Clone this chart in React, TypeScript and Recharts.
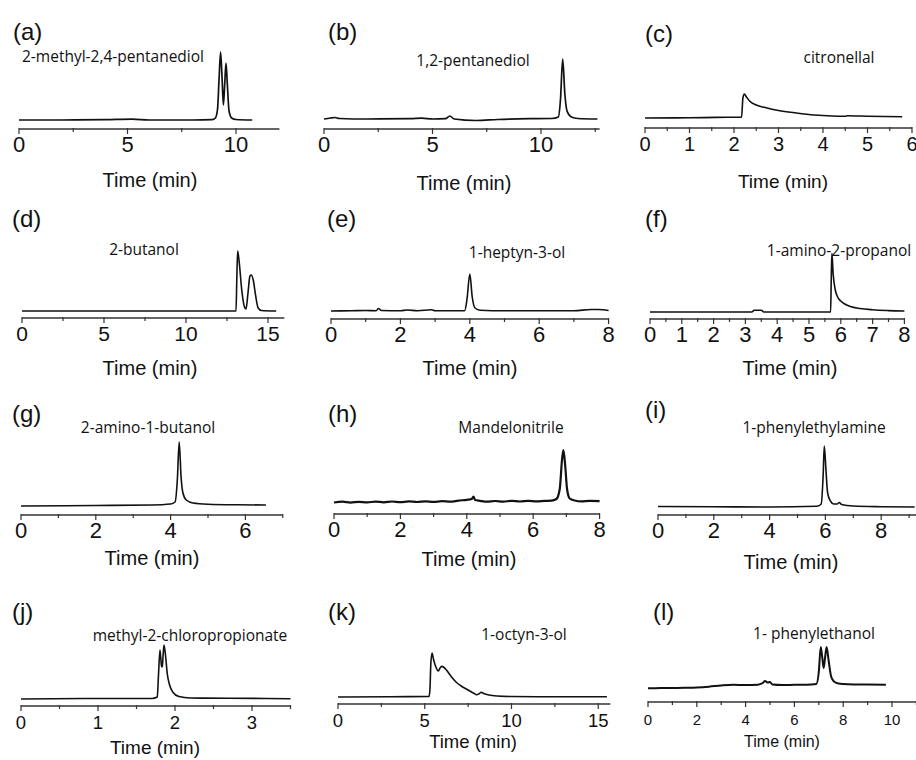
import React from "react";
import { LineChart, Line, XAxis, YAxis } from "recharts";

// chromatogram traces: [time (min), detector signal (a.u.)]
const traceA = [[0, 9], [2, 9], [4, 9.3], [5.2, 9.8], [6, 9], [8, 9], [8.9, 9.3], [9.05, 11], [9.15, 20], [9.22, 50], [9.29, 77], [9.36, 50], [9.42, 24], [9.48, 45], [9.54, 66], [9.6, 45], [9.68, 18], [9.8, 11], [10.0, 9.5], [10.75, 9]];
const traceB = [[0, 10], [0.3, 11], [0.5, 11.5], [0.7, 10.5], [2, 10], [4, 10.3], [4.5, 10.8], [5, 10], [5.6, 10.3], [5.8, 13], [6.0, 10], [7, 8.5], [8, 9.5], [9.5, 10.3], [10.5, 10.5], [10.8, 12], [10.9, 30], [11.0, 70], [11.1, 35], [11.2, 18], [11.4, 12], [11.7, 10.5], [12.6, 10]];
const traceC = [[0, 10], [1, 10.2], [1.6, 10.6], [2.17, 10.8], [2.2, 30], [2.23, 34], [2.28, 31], [2.35, 27], [2.5, 23], [2.7, 20.5], [3.0, 17.5], [3.4, 15], [3.8, 13], [4.2, 12], [4.5, 11.8], [4.55, 12.2], [5.0, 11.8], [5.78, 11.3]];
const traceD = [[0, 7], [5, 7], [10, 7], [13.05, 7], [13.1, 40], [13.15, 67], [13.25, 55], [13.4, 28], [13.55, 12], [13.66, 9], [13.78, 25], [13.9, 42], [13.98, 43], [14.1, 38], [14.25, 22], [14.4, 10], [14.6, 7.5], [15.5, 7]];
const traceE = [[0, 8], [0.6, 8.3], [1, 8.5], [1.3, 8.3], [1.37, 10.5], [1.45, 8.5], [2, 8.3], [2.2, 9], [2.5, 8.3], [2.9, 9.2], [3.0, 8.3], [3.85, 8.3], [3.92, 20], [4.0, 45], [4.07, 22], [4.15, 11], [4.3, 8.8], [5, 8.2], [6, 8.2], [7, 8.3], [7.5, 9.5], [7.7, 9.5], [8, 8.5]];
const traceF = [[0, 7], [3.2, 7], [3.28, 8.7], [3.5, 8.7], [3.58, 7], [5.68, 7], [5.7, 40], [5.72, 65.7], [5.76, 45], [5.82, 30], [5.9, 22], [6.0, 18], [6.1, 15.5], [6.3, 12.5], [6.6, 10.5], [7.0, 9.2], [7.5, 8.4], [8.0, 8]];
const traceG = [[0, 9], [2, 9.5], [3.5, 10], [4.0, 11], [4.12, 13], [4.18, 35], [4.23, 73], [4.28, 38], [4.33, 22], [4.42, 15], [4.6, 12], [5.0, 10.8], [5.8, 10.2], [6.55, 10]];
const traceH = [[0, 11.5], [0.25, 12.3], [0.5, 11.4], [0.75, 12.2], [1, 11.6], [1.25, 12.4], [1.5, 11.7], [1.75, 12.5], [2, 11.8], [2.25, 12.6], [2.5, 12.0], [2.75, 12.7], [3, 12.1], [3.25, 12.8], [3.5, 12.3], [3.75, 13.4], [4.0, 14.2], [4.15, 15], [4.2, 17.3], [4.25, 14], [4.4, 13.2], [4.6, 12.3], [4.85, 13.0], [5.1, 12.4], [5.35, 13.1], [5.6, 12.5], [5.85, 13.2], [6.1, 12.6], [6.35, 13.1], [6.55, 13.3], [6.7, 15], [6.8, 25], [6.87, 55], [6.91, 64], [6.96, 50], [7.02, 25], [7.1, 15.5], [7.25, 13.5], [7.45, 12.6], [7.7, 13.2], [8.0, 12.8]];
const traceI = [[0, 8.5], [2, 8.3], [4, 8], [5.7, 8.8], [5.85, 11], [5.92, 40], [5.96, 69], [6.02, 45], [6.08, 22], [6.18, 14], [6.3, 11], [6.42, 11], [6.5, 12.5], [6.58, 10.5], [7, 9], [8, 8.3], [9.2, 8]];
const traceJ = [[0, 7], [1, 7.5], [1.7, 7.5], [1.77, 9], [1.785, 30], [1.805, 56], [1.825, 40], [1.835, 39], [1.845, 50], [1.857, 61], [1.875, 52], [1.9, 32], [1.93, 21], [1.97, 14], [2.05, 9.5], [2.2, 8], [2.7, 7.8], [3.5, 7.3]];
const traceK = [[0, 7], [3, 7.3], [5.25, 7.5], [5.3, 15], [5.35, 40], [5.42, 51], [5.5, 45], [5.62, 38], [5.78, 33], [5.9, 36.5], [6.0, 37.6], [6.2, 35], [6.5, 28], [6.8, 22], [7.1, 18], [7.5, 14], [7.8, 11], [8.0, 9.3], [8.15, 10.5], [8.25, 11.7], [8.4, 10.5], [8.7, 9], [9.2, 8], [10, 7.5], [12, 7.2], [15.5, 7.2]];
const traceL = [[0, 13.7], [0.5, 13.9], [1, 14], [1.5, 14.2], [2, 14.5], [2.5, 15.3], [3, 16.5], [3.5, 17.2], [4, 17], [4.5, 17.3], [4.7, 19], [4.8, 21], [4.9, 19.5], [5.0, 20], [5.1, 17.5], [5.5, 17], [6, 17.2], [6.5, 17.3], [6.9, 18], [7.0, 30], [7.08, 55], [7.14, 45], [7.2, 34], [7.26, 45], [7.32, 55], [7.4, 42], [7.5, 26], [7.6, 21], [7.8, 18.5], [8.2, 17.8], [9, 17.5], [9.75, 17.3]];

// axis ticks (all) and the ones that carry a label
const ticksA = [0, 2.5, 5, 7.5, 10];
const ticksB = [0, 2.5, 5, 7.5, 10, 12.5];
const ticksC = [0, 0.5, 1, 1.5, 2, 2.5, 3, 3.5, 4, 4.5, 5, 5.5, 6];
const ticksD = [0, 2.5, 5, 7.5, 10, 12.5, 15];
const ticksE = [0, 1, 2, 3, 4, 5, 6, 7, 8];
const ticksF = [0, 0.5, 1, 1.5, 2, 2.5, 3, 3.5, 4, 4.5, 5, 5.5, 6, 6.5, 7, 7.5, 8];
const ticksG = [0, 1, 2, 3, 4, 5, 6, 7];
const ticksH = [0, 1, 2, 3, 4, 5, 6, 7, 8];
const ticksI = [0, 1, 2, 3, 4, 5, 6, 7, 8, 9];
const ticksJ = [0, 0.5, 1, 1.5, 2, 2.5, 3, 3.5];
const ticksK = [0, 2.5, 5, 7.5, 10, 12.5, 15];
const ticksL = [0, 1, 2, 3, 4, 5, 6, 7, 8, 9, 10, 11];

const labelsA = [0, 5, 10];
const labelsC = [0, 1, 2, 3, 4, 5, 6];
const labelsD = [0, 5, 10, 15];
const labelsEven8 = [0, 2, 4, 6, 8];
const labelsF = [0, 1, 2, 3, 4, 5, 6, 7, 8];
const labelsG = [0, 2, 4, 6];
const labelsJ = [0, 1, 2, 3];
const labelsL = [0, 2, 4, 6, 8, 10];

const compounds = [
  "2-methyl-2,4-pentanediol", "1,2-pentanediol", "citronellal",
  "2-butanol", "1-heptyn-3-ol", "1-amino-2-propanol",
  "2-amino-1-butanol", "Mandelonitrile", "1-phenylethylamine",
  "methyl-2-chloropropionate", "1-octyn-3-ol", "1- phenylethanol",
];
const letters = ["(a)", "(b)", "(c)", "(d)", "(e)", "(f)", "(g)", "(h)", "(i)", "(j)", "(k)", "(l)"];

const SIGNAL_MAX = 95;
const ARIAL = "'Liberation Sans', Arial, Helvetica, sans-serif";
const NAME_FONT = "'Open Sans', 'Noto Sans', sans-serif";

const panels = [
  { trace: traceA, ticks: ticksA, labels: labelsA, xMax: 12, x0: 19, ppu: 21.7, axisY: 129, lx: 13, ly: 40, nx: 113, ny: 62, tx: 150, ty: 187, tickFont: 22, timeFont: 20, lw: 1.7 },
  { trace: traceB, ticks: ticksB, labels: labelsA, xMax: 12.7, x0: 324, ppu: 21.7, axisY: 129, lx: 328, ly: 40, nx: 473, ny: 66, tx: 464, ty: 190, tickFont: 22, timeFont: 20, lw: 1.7 },
  { trace: traceC, ticks: ticksC, labels: labelsC, xMax: 6, x0: 645, ppu: 44.5, axisY: 128, lx: 645, ly: 42, nx: 839, ny: 63, tx: 783, ty: 188, tickFont: 20, timeFont: 19, lw: 1.6 },
  { trace: traceD, ticks: ticksD, labels: labelsD, xMax: 16, x0: 22, ppu: 16.4, axisY: 318, lx: 12, ly: 227, nx: 144, ny: 255, tx: 150, ty: 375, tickFont: 21, timeFont: 20, lw: 1.6 },
  { trace: traceE, ticks: ticksE, labels: labelsEven8, xMax: 8, x0: 331, ppu: 34.7, axisY: 319, lx: 327, ly: 227, nx: 517, ny: 258, tx: 470, ty: 375, tickFont: 22, timeFont: 20, lw: 1.6 },
  { trace: traceF, ticks: ticksF, labels: labelsF, xMax: 8, x0: 650, ppu: 31.8, axisY: 319, lx: 645, ly: 227, nx: 839, ny: 256, tx: 790, ty: 375, tickFont: 22, timeFont: 20, lw: 1.6 },
  { trace: traceG, ticks: ticksG, labels: labelsG, xMax: 7, x0: 21, ppu: 37.4, axisY: 515, lx: 12, ly: 422, nx: 148, ny: 433, tx: 152, ty: 565, tickFont: 22, timeFont: 20, lw: 1.6 },
  { trace: traceH, ticks: ticksH, labels: labelsEven8, xMax: 8, x0: 334, ppu: 33.2, axisY: 514, lx: 328, ly: 422, nx: 511, ny: 433, tx: 469, ty: 566, tickFont: 22, timeFont: 20, lw: 2.2 },
  { trace: traceI, ticks: ticksI, labels: labelsEven8, xMax: 9.3, x0: 658, ppu: 27.9, axisY: 515, lx: 645, ly: 418, nx: 814, ny: 433, tx: 791, ty: 569, tickFont: 22, timeFont: 20, lw: 1.6 },
  { trace: traceJ, ticks: ticksJ, labels: labelsJ, xMax: 3.5, x0: 21, ppu: 77, axisY: 706, lx: 12, ly: 620, nx: 190, ny: 641, tx: 155, ty: 754, tickFont: 18.5, timeFont: 19, lw: 1.6 },
  { trace: traceK, ticks: ticksK, labels: labelsD, xMax: 15.7, x0: 338, ppu: 17.35, axisY: 704, lx: 328, ly: 620, nx: 524, ny: 640, tx: 473, ty: 748, tickFont: 18.5, timeFont: 18.5, lw: 1.6 },
  { trace: traceL, ticks: ticksL, labels: labelsL, xMax: 11, x0: 648, ppu: 24.4, axisY: 702, lx: 653, ly: 620, nx: 814, ny: 639, tx: 782, ty: 747, tickFont: 15, timeFont: 16, lw: 2 },
];

function TimeTick(props: any) {
  const { x, y, payload, labels, font } = props;
  const major = labels.includes(payload.value);
  return (
    <g>
      <line x1={x} x2={x} y1={y - 1} y2={y + (major ? 5 : 3)} stroke="#333" strokeWidth={1.2} />
      {major && (
        <text x={x} y={y + 23} textAnchor="middle" fontFamily={ARIAL} fontSize={font} fill="#111">
          {payload.value}
        </text>
      )}
    </g>
  );
}

function Panel({ p }: { p: any }) {
  const padL = 26;
  const padR = 26;
  const axisH = 40;
  const width = padL + p.xMax * p.ppu + padR;
  const rows = p.trace.map(([t, v]: number[]) => ({ t, v }));
  return (
    <div style={{ position: "absolute", left: p.x0 - padL, top: p.axisY - SIGNAL_MAX }}>
      <LineChart width={width} height={SIGNAL_MAX + axisH} data={rows} margin={{ top: 0, right: padR, bottom: 0, left: padL }}>
        <XAxis
          dataKey="t"
          type="number"
          domain={[0, p.xMax]}
          ticks={p.ticks}
          interval={0}
          height={axisH}
          tickSize={0}
          tickMargin={0}
          tickLine={false}
          axisLine={{ stroke: "#333", strokeWidth: 1.3 }}
          tick={(tp: any) => <TimeTick {...tp} labels={p.labels} font={p.tickFont} />}
        />
        <YAxis hide type="number" domain={[0, SIGNAL_MAX]} />
        <Line dataKey="v" type="monotone" stroke="#111" strokeWidth={p.lw} dot={false} isAnimationActive={false} />
      </LineChart>
    </div>
  );
}

export default function App() {
  return (
    <div style={{ position: "absolute", left: 0, top: 0, width: 916, height: 760, overflow: "hidden", background: "#fff" }}>
      {panels.map((p, i) => (
        <Panel key={i} p={p} />
      ))}
      <svg width={916} height={760} style={{ position: "absolute", left: 0, top: 0, pointerEvents: "none" }}>
        {panels.map((p, i) => (
          <g key={i}>
            <text x={p.lx} y={p.ly} fontFamily={ARIAL} fontSize={24} fill="#111">{letters[i]}</text>
            <text x={p.nx} y={p.ny} textAnchor="middle" fontFamily={NAME_FONT} fontSize={15.5} fill="#111">{compounds[i]}</text>
            <text x={p.tx} y={p.ty} textAnchor="middle" fontFamily={ARIAL} fontSize={p.timeFont} fill="#111">Time (min)</text>
          </g>
        ))}
      </svg>
    </div>
  );
}
